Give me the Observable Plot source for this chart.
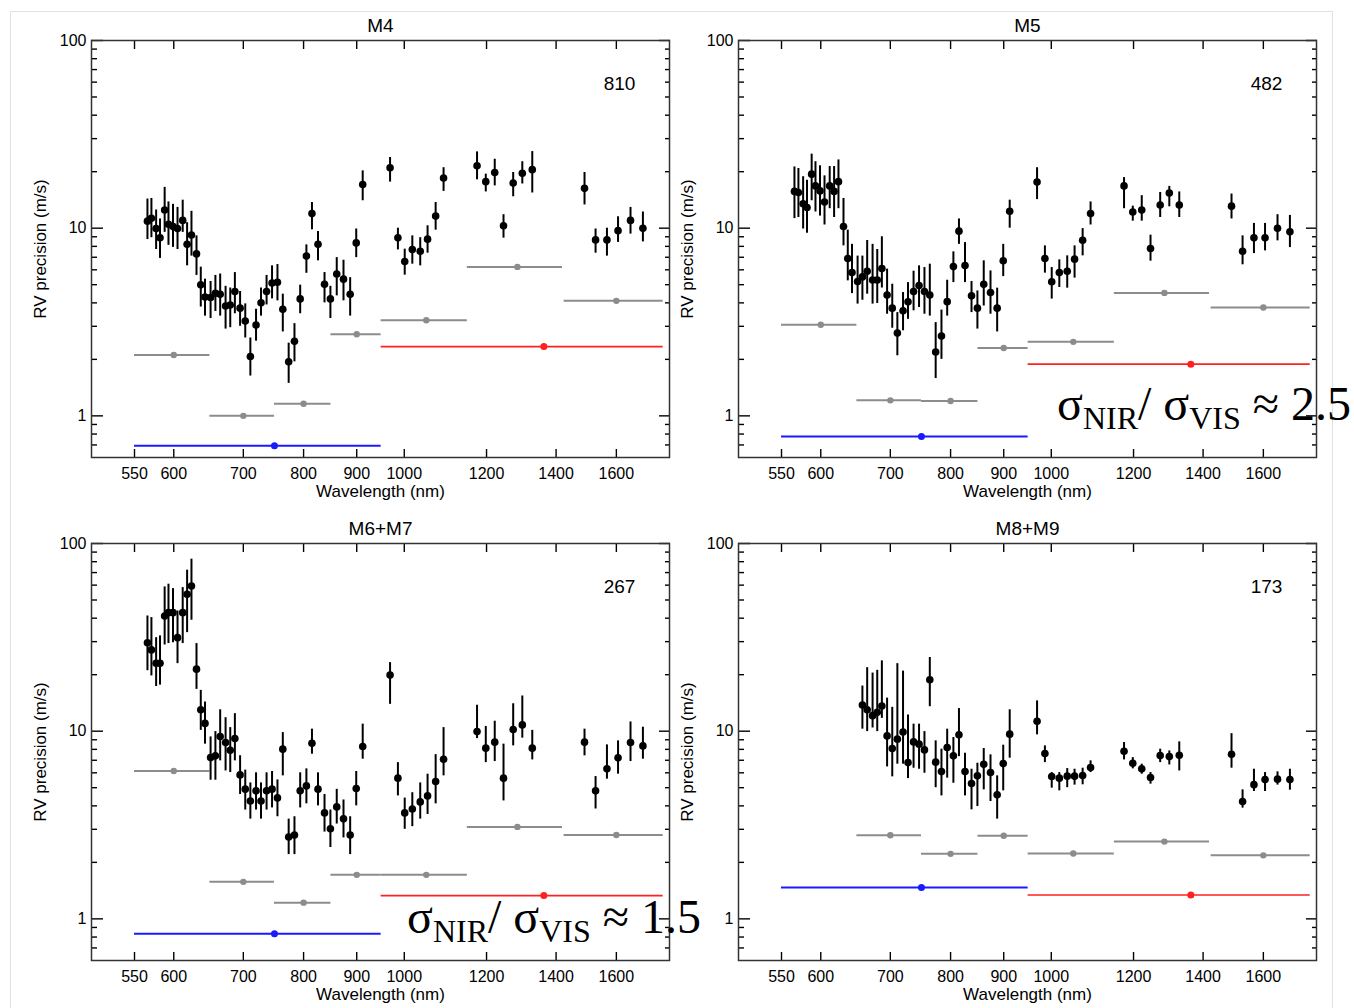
<!DOCTYPE html>
<html><head><meta charset="utf-8">
<script src="https://cdn.jsdelivr.net/npm/d3@7"></script>
<script src="https://cdn.jsdelivr.net/npm/@observablehq/plot@0.6"></script>
<style>
body{margin:0;background:#fff;width:1354px;height:1008px;overflow:hidden;position:relative;font-family:"Liberation Sans",Arial,sans-serif;}
.panel{position:absolute;}
.border{position:absolute;left:10px;top:11px;width:1321px;height:1010px;border:1px solid #e2e2e2;}
.ann{position:absolute;font-family:"Liberation Serif","Times New Roman",serif;font-size:48px;line-height:48px;white-space:nowrap;color:#000;z-index:5;}
.ann .s{font-size:32px;position:relative;top:9px;}
</style></head><body>
<div class="border"></div>
<div id="root"></div>
<script>
// ---- data ----
const orderWave = [566,571,577,582,588,593,599,605,612,618,624,631,637,643,651,658,665,673,680,687,695,703,711,720,728,737,746,755,764,774,784,794,805,815,826,838,849,861,874,887,899,912,
  969,986,1001,1018,1036,1053,1072,1091,1175,1198,1222,1246,1273,1299,1328,1491,1528,1567,1606,1651,1697];
const panelNames = ["M4","M5","M6+M7","M8+M9"];
const starCounts = ["810","482","267","173"];
const xTicks = [550,600,700,800,900,1000,1200,1400,1600];
const yMajor = [1,10,100];
const yMinor = [0.7,0.8,0.9,2,3,4,5,6,7,8,9,20,30,40,50,60,70,80,90];
const binLo = [550,650,750,850,950,1150,1425];
const binHi = [650,750,850,950,1150,1420,1775];
const binMid = [600,700,800,900,1050,1285,1600];
const bandLo = [550,950];
const bandHi = [950,1775];
const bandMid = [750,1362.5];

const m4Val = [10.9,11.3,9.95,8.9,12.5,10.5,10.2,9.95,11.0,8.2,9.2,7.3,4.99,4.3,4.27,4.5,4.45,3.85,3.9,4.6,3.75,3.2,2.07,3.05,4.0,4.6,5.1,5.15,3.7,1.94,2.5,4.2,7.1,11.96,8.2,5.03,4.2,5.7,5.35,4.45,8.35,17.1,
  21.0,8.9,6.64,7.7,7.54,8.74,11.6,18.5,21.5,17.7,19.8,10.3,17.4,19.6,20.5,16.3,8.66,8.66,9.7,11.0,10.0];
const m4Lo = [8.7,8.9,7.7,6.9,9.5,8.1,7.9,7.7,9.5,6.3,7.1,5.6,3.8,3.4,3.3,3.6,3.4,2.9,2.95,3.5,3.0,2.6,1.63,2.5,3.4,3.9,4.2,4.1,2.8,1.49,1.94,3.5,5.75,9.8,6.7,4.0,3.3,4.36,4.1,3.4,6.97,14.0,
  17.6,7.66,5.62,6.43,6.3,7.36,9.76,15.7,18.1,15.6,16.8,8.85,14.7,17.2,15.4,13.3,7.36,7.1,8.4,9.3,8.45];
const m4Hi = [14.3,14.4,12.5,11.2,16.5,13.8,13.4,12.9,14.1,10.7,12.3,9.1,6.2,5.35,5.2,5.6,5.7,4.9,4.8,5.8,4.6,3.95,2.6,3.7,4.8,5.6,6.3,6.4,4.45,2.44,3.1,4.97,8.15,13.7,9.6,5.8,4.9,6.97,6.75,5.45,9.9,20.2,
  23.8,10.0,7.73,9.1,8.9,10.3,13.7,21.0,25.5,19.4,23.3,11.8,19.8,22.6,25.6,19.8,9.9,10.0,11.5,12.9,12.2];

const m5Val = [15.7,15.5,13.5,12.9,19.4,16.8,15.8,13.8,16.8,15.7,17.7,10.2,6.9,5.8,5.2,5.5,5.9,5.3,5.3,6.1,4.4,3.75,2.76,3.63,4.05,4.6,4.95,4.6,4.4,2.19,2.66,4.06,6.24,9.64,6.32,4.36,3.75,5.03,4.54,3.75,6.7,12.3,
  17.6,6.9,5.18,5.8,5.9,6.84,8.63,11.96,16.8,12.2,12.5,7.79,13.3,15.4,13.3,13.1,7.54,8.88,8.88,10.0,9.56];
const m5Lo = [11.25,11.4,9.9,9.4,14.0,12.2,11.6,10.4,12.7,11.4,12.7,8.05,5.24,4.48,3.94,4.13,4.45,3.94,3.97,4.8,3.48,2.93,2.09,2.84,3.27,3.63,3.78,3.48,3.4,1.58,2.0,3.4,5.13,8.2,5.13,3.55,2.9,3.85,3.48,2.8,5.52,10.0,
  14.2,5.76,4.19,4.83,4.79,5.42,7.12,10.4,12.7,10.9,10.9,6.67,11.4,13.0,11.4,11.2,6.38,7.32,7.57,8.56,7.88];
const m5Hi = [21.2,20.8,18.8,18.0,24.8,22.6,21.5,19.0,21.3,21.3,23.1,14.4,9.76,8.2,7.1,7.1,8.6,8.2,7.7,9.0,6.05,5.03,3.55,4.54,5.13,5.9,6.3,6.17,6.43,3.14,3.66,5.28,7.48,11.2,8.38,5.2,4.63,6.7,5.92,4.79,8.2,14.1,
  21.0,8.05,6.17,6.78,7.12,8.05,9.95,13.8,18.6,13.1,14.9,9.18,15.5,16.7,15.6,15.2,9.1,10.6,10.6,11.8,11.7];

const m67Val = [29.6,27.1,23.0,23.0,41.1,42.8,42.8,31.5,42.8,53.7,59.4,21.4,13.0,11.0,7.23,7.39,9.36,8.7,7.92,9.13,5.85,4.91,4.25,4.81,4.25,4.81,4.91,4.41,8.02,2.73,2.80,4.81,5.11,8.63,4.91,3.67,3.02,3.95,3.41,2.80,4.95,8.28,
  19.9,5.62,3.67,3.85,4.2,4.52,5.39,7.09,9.95,8.12,8.74,5.62,10.2,10.8,8.12,8.74,4.81,6.3,7.21,8.7,8.35];
const m67Lo = [21.0,19.7,17.3,17.6,28.8,29.3,29.6,22.9,29.3,33.5,39.0,16.7,10.1,8.53,5.48,5.48,6.95,6.14,6.02,6.95,4.6,3.8,3.4,3.8,3.4,3.8,3.9,3.5,5.78,2.2,2.2,3.9,4.1,7.54,4.0,2.9,2.4,3.2,2.7,2.2,4.0,7.09,
  13.9,4.52,3.0,3.1,3.4,3.6,4.1,5.78,9.13,6.8,6.89,4.25,8.35,9.18,7.03,7.39,3.85,5.55,5.9,6.89,7.09];
const m67Hi = [41.1,40.3,31.5,32.2,58.7,60.7,57.5,43.7,58.2,72.1,82.5,29.3,16.5,14.3,9.32,9.95,13.0,11.8,10.45,12.4,7.4,6.2,5.3,6.0,5.3,6.0,6.1,5.5,9.83,3.4,3.5,6.0,6.3,10.25,6.0,4.6,3.8,4.9,4.3,3.5,6.1,10.9,
  23.2,6.8,4.4,4.7,5.3,5.9,7.5,10.45,13.75,10.6,11.3,8.53,14.0,15.4,10.1,10.25,5.73,8.45,8.88,11.2,10.5];

const m89Val = [null,null,null,null,null,null,null,null,null,null,null,null,null,null,null,13.8,13.0,12.1,12.6,13.6,9.44,8.08,9.07,9.9,6.8,8.77,8.53,7.95,18.8,6.84,6.09,8.18,7.39,9.56,6.09,5.26,5.78,6.67,6.02,4.58,6.72,9.64,
  11.3,7.6,5.73,5.62,5.76,5.76,5.8,6.4,7.82,6.75,6.3,5.66,7.41,7.32,7.45,7.54,4.22,5.19,5.52,5.55,5.52];
const m89Lo = [null,null,null,null,null,null,null,null,null,null,null,null,null,null,null,10.25,9.95,10.4,9.95,11.7,6.45,5.71,6.67,6.67,5.59,6.35,6.27,5.97,13.5,5.0,4.52,5.62,5.28,7.32,4.52,3.81,3.97,4.87,4.22,3.4,4.81,7.18,
  9.56,6.8,4.97,4.81,5.0,5.16,5.18,6.02,7.03,6.3,5.9,5.22,6.8,6.61,6.14,6.35,3.89,4.77,4.77,5.16,4.85];
const m89Hi = [null,null,null,null,null,null,null,null,null,null,null,null,null,null,null,17.4,21.8,20.4,21.1,23.7,15.0,13.4,22.9,20.9,12.2,10.9,10.9,9.95,24.7,8.88,8.02,10.25,9.25,13.2,7.63,6.27,6.75,8.08,7.48,5.78,8.42,13.0,
  14.5,8.35,6.02,6.02,6.32,6.27,6.35,6.95,8.7,7.23,6.67,6.02,8.02,7.85,8.77,9.7,4.87,6.27,6.02,6.07,6.27];

const m4Bin = [2.11,1.0,1.16,2.72,3.23,6.22,4.10];
const m5Bin = [3.06,1.21,1.20,2.30,2.48,4.52,3.78];
const m67Bin = [6.14,1.575,1.22,1.716,1.716,3.09,2.80];
const m89Bin = [null,2.79,2.22,2.77,2.23,2.58,2.18];

const m4Band = [0.692,2.34];
const m5Band = [0.776,1.886];
const m67Band = [0.832,1.33];
const m89Band = [1.47,1.34];

// ---- drawing ----
const FONT = "'Liberation Sans', Arial, Helvetica, sans-serif";
const GRAY = "#8c8c8c", BLUE = "#1a1aff", RED = "#ff2020";
const panelPos = [[10,8],[657,8],[10,511],[657,511]];
const series = [
  [m4Val,m4Lo,m4Hi,m4Bin,m4Band],
  [m5Val,m5Lo,m5Hi,m5Bin,m5Band],
  [m67Val,m67Lo,m67Hi,m67Bin,m67Band],
  [m89Val,m89Lo,m89Hi,m89Bin,m89Band]
];

function makePanel(i) {
  const [val, lo, hi, bins, band] = series[i];
  const pts = orderWave.map((w,k)=>({w, v:val[k], lo:lo[k], hi:hi[k]})).filter(d=>d.v!=null);
  const binData = binMid.map((m,k)=>({lo:binLo[k], hi:binHi[k], m, v:bins[k]})).filter(d=>d.v!=null);
  const vis = [{lo:bandLo[0], hi:bandHi[0], m:bandMid[0], v:band[0]}];
  const nir = [{lo:bandLo[1], hi:bandHi[1], m:bandMid[1], v:band[1]}];
  const blank = () => "";
  return Plot.plot({
    width: 670, height: 495,
    marginLeft: 81, marginRight: 11, marginTop: 32, marginBottom: 46,
    x: {type: "log", domain: [500, 1800]},
    y: {type: "log", domain: [0.6, 100]},
    style: {fontFamily: FONT, fontSize: "16px", color: "#000", background: "transparent", overflow: "visible"},
    marks: [
      Plot.ruleY(binData, {x1:"lo", x2:"hi", y:"v", stroke: GRAY, strokeWidth: 2}),
      Plot.dot(binData, {x:"m", y:"v", fill: GRAY, r: 3.2}),
      Plot.ruleY(vis, {x1:"lo", x2:"hi", y:"v", stroke: BLUE, strokeWidth: 2}),
      Plot.dot(vis, {x:"m", y:"v", fill: BLUE, r: 3.5}),
      Plot.ruleY(nir, {x1:"lo", x2:"hi", y:"v", stroke: RED, strokeWidth: 1.7}),
      Plot.dot(nir, {x:"m", y:"v", fill: RED, r: 3.5}),
      Plot.ruleX(pts, {x:"w", y1:"lo", y2:"hi", stroke:"#000", strokeWidth: 2}),
      Plot.dot(pts, {x:"w", y:"v", fill:"#000", r: 3.8}),
      // axes
      Plot.axisX({anchor:"bottom", ticks: xTicks, tickSize: 0, tickPadding: 10, tickFormat: d => String(d), label: null, fontSize: 16}),
      Plot.axisX({anchor:"bottom", ticks: xTicks, tickSize: -8, tickFormat: blank, label: null, strokeWidth: 1.4}),
      Plot.axisX({anchor:"top", ticks: xTicks, tickSize: -8, tickFormat: blank, label: null, strokeWidth: 1.4}),
      Plot.axisY({anchor:"left", ticks: yMajor, tickSize: 0, tickPadding: 5, tickFormat: d => String(d), label: null, fontSize: 16}),
      Plot.axisY({anchor:"left", ticks: yMajor, tickSize: -12, tickFormat: blank, label: null, strokeWidth: 1.4}),
      Plot.axisY({anchor:"left", ticks: yMinor, tickSize: -6, tickFormat: blank, label: null, strokeWidth: 1.4}),
      Plot.axisY({anchor:"right", ticks: yMajor, tickSize: -11, tickFormat: blank, label: null, strokeWidth: 1.4}),
      Plot.axisY({anchor:"right", ticks: yMinor, tickSize: -5, tickFormat: blank, label: null, strokeWidth: 1.4}),
      Plot.frame({stroke: "#333", strokeWidth: 1.5}),
      Plot.text([panelNames[i]], {text: d => d, frameAnchor: "top", dy: -15, lineAnchor: "middle", fontSize: 19}),
      Plot.text([starCounts[i]], {text: d => d, frameAnchor: "top-right", dx: -50, dy: 43, textAnchor: "middle", lineAnchor: "middle", fontSize: 19}),
      Plot.text(["Wavelength (nm)"], {text: d => d, frameAnchor: "bottom", dy: 34, lineAnchor: "middle", fontSize: 17}),
      Plot.text(["RV precision (m/s)"], {text: d => d, frameAnchor: "left", dx: -51, rotate: -90, textAnchor: "middle", lineAnchor: "middle", fontSize: 17})
    ]
  });
}

const root = document.getElementById("root");
panelNames.forEach((n, i) => {
  const div = document.createElement("div");
  div.className = "panel";
  div.style.left = panelPos[i][0] + "px";
  div.style.top = panelPos[i][1] + "px";
  div.appendChild(makePanel(i));
  root.appendChild(div);
});
</script>
<div class="ann" style="left:1057px;top:380px;">σ<span class="s">NIR</span>/ σ<span class="s">VIS</span> ≈ 2.5</div>
<div class="ann" style="left:407px;top:893px;">σ<span class="s">NIR</span>/ σ<span class="s">VIS</span> ≈ 1.5</div>
</body></html>
